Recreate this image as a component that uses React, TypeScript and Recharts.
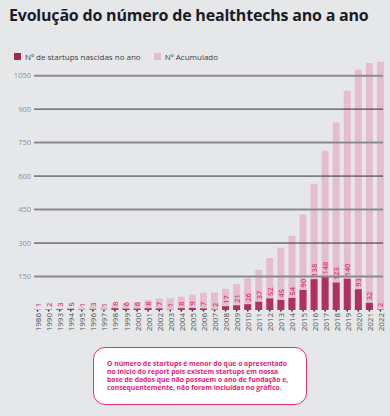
import React from 'react';
import { BarChart, Bar, XAxis, YAxis, ReferenceLine, LabelList } from 'recharts';

// anos com startups registradas (1987-1989 e 1991-1992 não aparecem)
const years = [
  '1986', '1990', '1993', '1994', '1995', '1996', '1997', '1998', '1999', '2000',
  '2001', '2002', '2003', '2004', '2005', '2006', '2007', '2008', '2009', '2010',
  '2011', '2012', '2013', '2014', '2015', '2016', '2017', '2018', '2019', '2020',
  '2021', '2022',
];
const nascidas = [
  1, 2, 3, 5, 1, 3, 1, 8, 6, 6,
  8, 7, 1, 8, 9, 7, 2, 17, 21, 26,
  37, 52, 45, 54, 90, 138, 148, 123, 140, 93,
  32, 2,
];
const acumulado = [
  1, 3, 6, 11, 12, 15, 16, 24, 30, 36,
  44, 51, 52, 60, 69, 76, 78, 95, 116, 142,
  180, 233, 279, 333, 428, 566, 714, 840, 982, 1076,
  1107, 1112,
];
const yTicks = [150, 300, 450, 600, 750, 900, 1050];
const grayLines = [150, 450, 750, 1050];
const darkLines = [300, 600, 900];

const data = years.map((year, i) => ({ year, nascidas: nascidas[i], acumulado: acumulado[i] }));

const FONT = '"Open Sans", sans-serif';
const DARK = '#b1305f';
const PINK = '#e6bdce';
const LABEL = '#de3a76';

const ValueLabel = (props: any) => {
  const { x, y, width, value } = props;
  return (
    <g transform={`translate(${x + width / 2}, ${y - 2.5})`}>
      <text
        transform="rotate(-90)"
        textAnchor="start"
        dominantBaseline="central"
        fontSize={7.5}
        fontWeight={600}
        fontFamily={FONT}
        fill={LABEL}
      >
        {value}
      </text>
    </g>
  );
};

const YearTick = (props: any) => {
  const { x, y, payload } = props;
  return (
    <g transform={`translate(${x}, ${y})`}>
      <text
        transform="rotate(-90)"
        textAnchor="end"
        dominantBaseline="central"
        fontSize={8}
        fontFamily={FONT}
        fill="#4a4c52"
      >
        {payload.value}
      </text>
    </g>
  );
};

const gridShape = (stroke: string, w: number) => (p: any) => (
  <line x1={p.x1 + 2} x2={p.x2 - 3} y1={p.y1} y2={p.y2} stroke={stroke} strokeWidth={w} />
);

export default function App() {
  return (
    <div
      style={{
        position: 'relative',
        width: 390,
        height: 416,
        background: '#e6e7e9',
        fontFamily: FONT,
        overflow: 'hidden',
      }}
    >
      <style>{'body{margin:0}'}</style>
      <div
        style={{
          position: 'absolute',
          left: 9,
          top: 4,
          fontSize: 16,
          fontWeight: 700,
          color: '#1b1c26',
          letterSpacing: -0.2,
          whiteSpace: 'nowrap',
        }}
      >
        Evolução do número de healthtechs ano a ano
      </div>

      <div style={{ position: 'absolute', left: 14, top: 51, display: 'flex', alignItems: 'center', fontSize: 8, color: '#3a3c44' }}>
        <span style={{ width: 7, height: 7, background: '#a8254f', display: 'inline-block', marginRight: 4 }} />
        <span>Nº de startups nascidas no ano</span>
        <span style={{ width: 7, height: 7, background: PINK, display: 'inline-block', marginLeft: 13, marginRight: 4 }} />
        <span>Nº Acumulado</span>
      </div>

      <div style={{ position: 'absolute', left: 0, top: 0 }}>
        <BarChart
          width={390}
          height={360}
          data={data}
          margin={{ top: 60, right: 4, bottom: 0, left: 0 }}
          barSize={7}
          barGap={-7}
        >
          <XAxis
            dataKey="year"
            interval={0}
            axisLine={false}
            tickLine={{ stroke: '#2b2b30', strokeWidth: 1.5 }}
            tickSize={1.5}
            tickMargin={1.5}
            height={50}
            tick={YearTick}
          />
          <YAxis
            domain={[0, 1120]}
            ticks={yTicks}
            width={32}
            axisLine={false}
            tickLine={false}
            tickSize={0}
            tickMargin={1}
            tick={{ fontSize: 7.5, fill: '#8b9099', fontFamily: FONT }}
          />
          <Bar dataKey="acumulado" fill={PINK} isAnimationActive={false} />
          <Bar dataKey="nascidas" fill={DARK} isAnimationActive={false}>
            <LabelList dataKey="nascidas" content={ValueLabel} />
          </Bar>
          {grayLines.map((v) => (
            <ReferenceLine key={'g' + v} y={v} shape={gridShape('#8a8a8e', 2)} />
          ))}
          {darkLines.map((v) => (
            <ReferenceLine key={'d' + v} y={v} shape={gridShape('#2e2e33', 1)} />
          ))}
        </BarChart>
      </div>

      <div
        style={{
          position: 'absolute',
          left: 93,
          top: 347,
          width: 214,
          height: 58,
          boxSizing: 'border-box',
          border: '1.5px solid #ea2f7c',
          borderRadius: 12,
          background: '#ffffff',
          padding: '12px 0 0 13px',
          fontSize: 6.8,
          lineHeight: '8px',
          fontWeight: 700,
          color: '#e8197a',
          whiteSpace: 'nowrap',
        }}
      >
        O número de startups é menor do que o apresentado
        <br />
        no início do report pois existem startups em nossa
        <br />
        base de dados que não possuem o ano de fundação e,
        <br />
        consequentemente, não foram incluídas no gráfico.
      </div>
    </div>
  );
}
